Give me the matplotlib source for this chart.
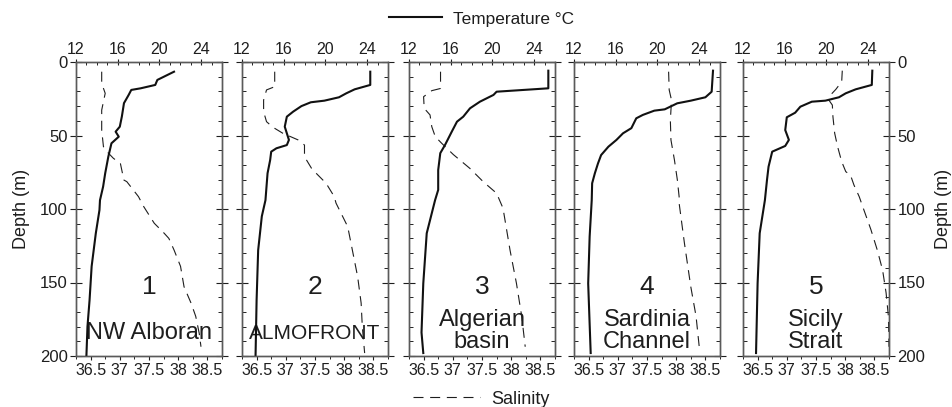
import matplotlib
matplotlib.use("Agg")
import matplotlib.pyplot as plt
from matplotlib.lines import Line2D
from matplotlib.ticker import MultipleLocator

plt.rcParams['font.family'] = ['Liberation Sans', 'DejaVu Sans']

# ---------------- data ----------------
panel_numbers = ["1", "2", "3", "4", "5"]
panel_names = ["NW Alboran", "ALMOFRONT", "Algerian\nbasin", "Sardinia\nChannel", "Sicily\nStrait"]

# Panel 1 - NW Alboran
t1_depth = [6.6, 12.2, 15.6, 17.9, 19, 22.4, 28, 37, 44, 47.4, 50.8, 55.3, 64.4, 75.7, 84.8, 94, 100.7, 116.5, 139, 162, 180, 199.5]
t1_temp = [21.4, 19.8, 19.6, 18.2, 17.3, 17.05, 16.6, 16.4, 16.2, 15.8, 16.1, 15.4, 15.1, 14.8, 14.6, 14.3, 14.25, 13.9, 13.5, 13.3, 13.1, 13.0]
s1_depth = [6.6, 14.5, 21.3, 32.7, 46.3, 57.6, 61, 65.5, 69, 80.3, 81.4, 91.6, 98.4, 109.7, 116.5, 120, 128, 139, 152.9, 164, 173, 184.6, 193.7]
s1_sal = [36.69, 36.69, 36.75, 36.69, 36.69, 36.72, 36.78, 36.89, 37.01, 37.07, 37.12, 37.32, 37.41, 37.59, 37.76, 37.84, 37.93, 38.04, 38.10, 38.22, 38.30, 38.36, 38.39]

# Panel 2 - ALMOFRONT
t2_depth = [6.6, 15.6, 18.6, 21.3, 24, 26.3, 27.4, 30, 33.8, 37.2, 44, 48.5, 53, 56.5, 58.7, 61, 66.7, 75.7, 84.8, 94, 105, 128, 162, 199.5]
t2_temp = [24.3, 24.3, 22.8, 22.0, 21.3, 19.9, 18.6, 17.7, 16.9, 16.3, 16.1, 16.3, 16.5, 16.3, 15.3, 14.8, 14.7, 14.45, 14.35, 14.25, 13.9, 13.55, 13.4, 13.3]
s2_depth = [6.6, 16.8, 19, 25.9, 33.8, 40.6, 44.4, 48.5, 53, 56.5, 64.4, 72.3, 75.7, 82.5, 91.6, 96, 112, 128, 146, 164, 180, 198]
s2_sal = [36.81, 36.81, 36.67, 36.62, 36.62, 36.67, 36.78, 36.95, 37.21, 37.32, 37.32, 37.44, 37.52, 37.69, 37.83, 37.86, 38.06, 38.14, 38.23, 38.29, 38.31, 38.35]

# Panel 3 - Algerian basin
t3_depth = [5.9, 17.9, 20.2, 22.4, 27, 31.5, 37.2, 40.6, 47.4, 56.5, 62, 73.5, 87, 94, 116.5, 150.6, 184, 198]
t3_temp = [25.36, 25.36, 20.4, 20.1, 18.8, 17.85, 17.2, 16.6, 16.1, 15.45, 15.0, 14.8, 14.8, 14.5, 13.7, 13.37, 13.2, 13.37]
s3_depth = [6.6, 18, 19.5, 23.6, 31.5, 36, 44, 50.8, 55.3, 63, 72.3, 81.4, 89.3, 99.5, 128, 150.6, 173, 193.7]
s3_sal = [36.79, 36.79, 36.64, 36.50, 36.51, 36.61, 36.64, 36.70, 36.81, 37.01, 37.29, 37.52, 37.75, 37.86, 37.98, 38.09, 38.18, 38.24]

# Panel 4 - Sardinia Channel
t4_depth = [5.9, 20.2, 24, 26.3, 28.1, 32.2, 33.1, 36, 38.3, 45, 48.5, 53, 57.6, 63.3, 69, 75.7, 82.5, 94, 118.8, 150.6, 198]
t4_temp = [25.33, 25.2, 24.6, 23.2, 21.9, 20.7, 19.7, 18.6, 17.97, 17.5, 16.7, 16.07, 15.3, 14.6, 14.3, 14.0, 13.74, 13.7, 13.5, 13.36, 13.6]
s4_depth = [6.6, 19, 26, 32.7, 39.5, 53, 66.7, 80.3, 91.6, 96, 123, 152.9, 173, 195.9]
s4_sal = [37.87, 37.88, 37.92, 37.91, 37.90, 37.91, 37.97, 38.02, 38.05, 38.05, 38.14, 38.25, 38.34, 38.40]

# Panel 5 - Sicily Strait
t5_depth = [5.9, 15.6, 18.6, 21.3, 24, 26.3, 27, 30.4, 34.5, 37.6, 46.3, 53, 57.1, 61, 71.2, 80.3, 94, 116.5, 150.6, 198]
t5_temp = [24.4, 24.35, 22.8, 21.85, 21.2, 19.9, 18.6, 17.5, 17.0, 16.2, 16.05, 16.4, 16.05, 14.8, 14.45, 14.3, 14.1, 13.6, 13.4, 13.25]
s5_depth = [5.9, 13.4, 18.6, 22.4, 25.9, 29.3, 37.2, 48.5, 57.6, 67.8, 74.6, 76.9, 83.7, 91.6, 98.4, 114, 128, 141.5, 157, 173, 193.7]
s5_sal = [37.95, 37.94, 37.84, 37.75, 37.72, 37.78, 37.79, 37.82, 37.87, 37.94, 38.01, 38.09, 38.15, 38.24, 38.30, 38.44, 38.55, 38.64, 38.70, 38.74, 38.75]

temp_depths = [t1_depth, t2_depth, t3_depth, t4_depth, t5_depth]
temps = [t1_temp, t2_temp, t3_temp, t4_temp, t5_temp]
sal_depths = [s1_depth, s2_depth, s3_depth, s4_depth, s5_depth]
sals = [s1_sal, s2_sal, s3_sal, s4_sal, s5_sal]

temp_ticks = [12, 16, 20, 24]
sal_ticks = [36.5, 37, 37.5, 38, 38.5]
sal_ticklabels = ["36.5", "37", "37.5", "38", "38.5"]
depth_ticks = [0, 50, 100, 150, 200]

# ---------------- figure ----------------
W, H = 953, 407
fig = plt.figure(figsize=(W / 100, H / 100), dpi=100)

lefts_px = [76, 242, 409, 574, 743]
width_px = 146
top_px, bottom_px = 62, 356
frame_col = "#5a5a5a"
ink = "#1e1e1e"
sal_dash = (9, 6)

for i in range(5):
    ax = fig.add_axes([lefts_px[i] / W, 1 - bottom_px / H, width_px / W, (bottom_px - top_px) / H])
    ax.set_ylim(200, 0)
    ax.set_xlim(36.25, 38.75)
    ax.plot(sals[i], sal_depths[i], color=ink, lw=0.8, dashes=sal_dash)
    ax.set_xticks(sal_ticks)
    ax.set_xticklabels(sal_ticklabels)
    ax.xaxis.set_minor_locator(MultipleLocator(0.25))
    ax.set_yticks(depth_ticks)
    ax.yaxis.set_minor_locator(MultipleLocator(10))
    ax.tick_params(axis='x', which='major', direction='out', length=3, width=0.8, labelsize=11.5, pad=2, colors=ink)
    ax.tick_params(axis='x', which='minor', direction='out', length=2, width=0.6)
    ax.tick_params(axis='y', which='major', direction='inout', length=8, width=0.8, labelsize=12, right=True, pad=2, colors=ink)
    ax.tick_params(axis='y', which='minor', direction='in', length=3, width=0.6, right=True, left=True)
    if i == 0:
        ax.set_ylabel("Depth (m)", fontsize=13, labelpad=7, color=ink)
    else:
        ax.tick_params(axis='y', labelleft=False)
    if i == 4:
        ax.tick_params(axis='y', labelright=True)
        ax.yaxis.set_label_position("right")
        ax.set_ylabel("Depth (m)", fontsize=13, labelpad=7, color=ink)

    axT = ax.twiny()
    axT.set_xlim(12, 26)
    axT.plot(temps[i], temp_depths[i], color="#111111", lw=1.5)
    axT.set_xticks(temp_ticks)
    axT.xaxis.set_minor_locator(MultipleLocator(1))
    axT.tick_params(axis='x', which='major', direction='inout', length=5, width=0.8, labelsize=11.5, pad=1, colors=ink)
    axT.tick_params(axis='x', which='minor', direction='in', length=2.5, width=0.6)

    for a in (ax, axT):
        for s in a.spines.values():
            s.set_color(frame_col)
            s.set_linewidth(1.0)

    ax.text(0.5, 0.235, panel_numbers[i], transform=ax.transAxes, ha='center', va='center',
            fontsize=19, color=ink)
    two_lines = "\n" in panel_names[i]
    ax.text(0.5, 0.085 if two_lines else 0.078, panel_names[i], transform=ax.transAxes,
            ha='center', va='center', fontsize=17 if i != 1 else 15, color=ink,
            linespacing=1.02)

# legends
fig.legend(handles=[Line2D([], [], color="#111111", lw=1.5)], labels=["Temperature \u00b0C"],
           loc='center', bbox_to_anchor=(0.505, 1 - 19 / H), frameon=False, fontsize=12.4,
           handlelength=3.1, handletextpad=0.6, labelcolor=ink)
fig.legend(handles=[Line2D([], [], color=ink, lw=0.8, dashes=sal_dash)], labels=["Salinity"],
           loc='center', bbox_to_anchor=(0.505, 1 - 399 / H), frameon=False, fontsize=13,
           handlelength=3.7, handletextpad=0.65, labelcolor=ink)

fig.savefig("out.png", dpi=100)
